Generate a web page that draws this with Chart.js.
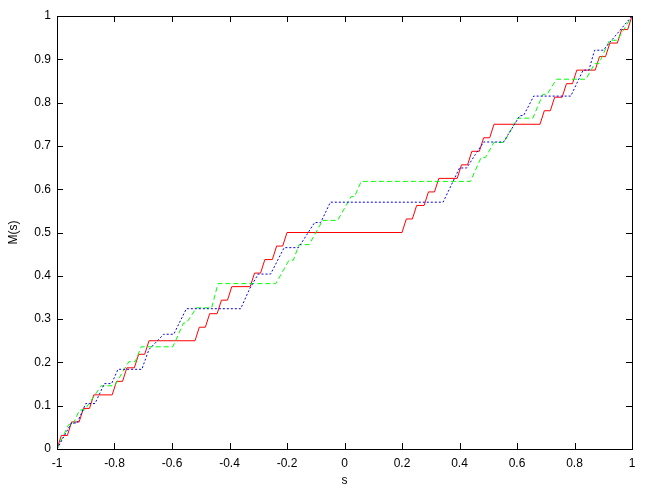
<!DOCTYPE html>
<html>
<head>
<meta charset="utf-8">
<script src="https://cdn.jsdelivr.net/npm/chart.js@4"></script>
<style>
  body { margin: 0; background: #fff; }
</style>
</head>
<body>
<canvas id="chart" width="654" height="491"></canvas>
<script>
// step curves M(s)
var redS = [-1, -0.985, -0.964, -0.949, -0.923, -0.908, -0.887, -0.872, -0.808, -0.793, -0.772, -0.757, -0.731, -0.716, -0.695,
  -0.68, -0.52, -0.505, -0.484, -0.469, -0.443, -0.428, -0.407, -0.392, -0.328, -0.313, -0.292, -0.277, -0.251, -0.236, -0.215,
  -0.2, 0.2, 0.215, 0.236, 0.251, 0.277, 0.292, 0.313, 0.328, 0.392, 0.407, 0.428, 0.443, 0.469, 0.484, 0.505,
  0.52, 0.68, 0.695, 0.716, 0.731, 0.757, 0.772, 0.793, 0.808, 0.872, 0.887, 0.908, 0.923, 0.949, 0.964, 0.985, 1];
var redM = [0, 0.03125, 0.03125, 0.0625, 0.0625, 0.09375, 0.09375, 0.125, 0.125, 0.15625, 0.15625, 0.1875, 0.1875, 0.21875, 0.21875,
  0.25, 0.25, 0.28125, 0.28125, 0.3125, 0.3125, 0.34375, 0.34375, 0.375, 0.375, 0.40625, 0.40625, 0.4375, 0.4375, 0.46875, 0.46875,
  0.5, 0.5, 0.53125, 0.53125, 0.5625, 0.5625, 0.59375, 0.59375, 0.625, 0.625, 0.65625, 0.65625, 0.6875, 0.6875, 0.71875, 0.71875,
  0.75, 0.75, 0.78125, 0.78125, 0.8125, 0.8125, 0.84375, 0.84375, 0.875, 0.875, 0.90625, 0.90625, 0.9375, 0.9375, 0.96875, 0.96875, 1];

var greenS = [-1, -0.96, -0.945, -0.922, -0.904, -0.846, -0.8, -0.75, -0.728, -0.707, -0.597, -0.56, -0.55, -0.515, -0.462, -0.44, -0.239,
  -0.193, -0.178, -0.158, -0.123, -0.076, -0.024, 0.023, 0.035, 0.058, 0.438, 0.475, 0.49, 0.52, 0.555, 0.602, 0.655,
  0.69, 0.705, 0.737, 0.84, 0.87, 0.885, 0.922, 0.949, 1];
var greenM = [0, 0.056, 0.056, 0.09, 0.09, 0.146, 0.146, 0.2016, 0.2016, 0.236, 0.236, 0.291, 0.291, 0.326, 0.326, 0.382, 0.382,
  0.436, 0.436, 0.472, 0.472, 0.528, 0.528, 0.583, 0.583, 0.618, 0.618, 0.673, 0.673, 0.708, 0.708, 0.764, 0.764,
  0.819, 0.819, 0.854, 0.854, 0.89, 0.89, 0.944, 0.944, 1];

var blueS = [-1, -0.95, -0.93, -0.9, -0.868, -0.835, -0.81, -0.788, -0.705, -0.68, -0.629, -0.594, -0.55, -0.361, -0.33, -0.3, -0.257,
  -0.21, -0.16, -0.104, -0.083, -0.049, 0.343, 0.4, 0.425, 0.455, 0.484, 0.553, 0.61, 0.623, 0.658, 0.787, 0.83, 0.85,
  0.87, 0.9, 1];
var blueM = [0, 0.06, 0.06, 0.105, 0.105, 0.151, 0.151, 0.184, 0.184, 0.23, 0.265, 0.265, 0.324, 0.324, 0.37, 0.404, 0.404,
  0.465, 0.465, 0.523, 0.523, 0.57, 0.57, 0.649, 0.649, 0.68, 0.709, 0.709, 0.77, 0.77, 0.815, 0.815, 0.875, 0.875,
  0.921, 0.921, 1];

var xTicks = [-1, -0.8, -0.6, -0.4, -0.2, 0, 0.2, 0.4, 0.6, 0.8, 1];
var yTicks = [0, 0.1, 0.2, 0.3, 0.4, 0.5, 0.6, 0.7, 0.8, 0.9, 1];

function pts(xs, ys) {
  return xs.map(function(x, i) { return { x: x, y: ys[i] }; });
}

// gnuplot style box with inward ticks on all four sides
var frameTicks = {
  id: 'frameTicks',
  afterDatasetsDraw: function(chart) {
    var c = chart.ctx, a = chart.chartArea;
    var xs = chart.scales.x, ys = chart.scales.y;
    var len = 6;
    c.save();
    c.strokeStyle = '#000';
    c.lineWidth = 1;
    c.beginPath();
    xTicks.forEach(function(v) {
      var p = Math.round(xs.getPixelForValue(v)) + 0.5;
      c.moveTo(p, a.bottom); c.lineTo(p, a.bottom - len);
      c.moveTo(p, a.top); c.lineTo(p, a.top + len);
    });
    yTicks.forEach(function(v) {
      var p = Math.round(ys.getPixelForValue(v)) + 0.5;
      c.moveTo(a.left, p); c.lineTo(a.left + len, p);
      c.moveTo(a.right, p); c.lineTo(a.right - len, p);
    });
    c.stroke();
    c.strokeRect(Math.round(a.left) + 0.5, Math.round(a.top) + 0.5,
      Math.round(a.right - a.left), Math.round(a.bottom - a.top));
    c.restore();
  }
};

var font = { family: 'Liberation Sans', size: 12 };

window.onload = function() {
  var ctx = document.getElementById('chart').getContext('2d');
  var myChart = new Chart(ctx, {
    type: 'scatter',
    data: {
      datasets: [
        {
          label: 'red',
          data: pts(redS, redM),
          showLine: true,
          borderColor: 'rgb(255,0,0)',
          borderWidth: 1,
          pointRadius: 0,
          order: 3
        },
        {
          label: 'green',
          data: pts(greenS, greenM),
          showLine: true,
          borderColor: 'rgb(0,255,0)',
          borderWidth: 1,
          borderDash: [5, 3],
          pointRadius: 0,
          order: 2
        },
        {
          label: 'blue',
          data: pts(blueS, blueM),
          showLine: true,
          borderColor: 'rgb(0,0,255)',
          borderWidth: 1,
          borderDash: [2, 2],
          pointRadius: 0,
          order: 1
        }
      ]
    },
    options: {
      responsive: false,
      animation: false,
      layout: { padding: { top: 16, right: 22 } },
      plugins: {
        legend: { display: false },
        tooltip: { enabled: false }
      },
      scales: {
        x: {
          type: 'linear',
          min: -1,
          max: 1,
          afterBuildTicks: function(s) { s.ticks = xTicks.map(function(v) { return { value: v }; }); },
          afterFit: function(s) { s.height = 42; },
          ticks: {
            color: '#000',
            font: font,
            padding: 7,
            maxRotation: 0,
            callback: function(v) { return String(Math.round(v * 10) / 10); }
          },
          grid: { display: false, drawTicks: false },
          border: { display: false },
          title: { display: true, text: 's', color: '#000', font: font, padding: { top: 0, bottom: 3 } }
        },
        y: {
          type: 'linear',
          min: 0,
          max: 1,
          afterBuildTicks: function(s) { s.ticks = yTicks.map(function(v) { return { value: v }; }); },
          afterFit: function(s) { s.width = 57; },
          ticks: {
            color: '#000',
            font: font,
            padding: 6,
            callback: function(v) { return String(Math.round(v * 10) / 10); }
          },
          grid: { display: false, drawTicks: false },
          border: { display: false },
          title: { display: true, text: 'M(s)', color: '#000', font: font, padding: { top: 6, bottom: 0 } }
        }
      }
    },
    plugins: [frameTicks]
  });
};
</script>
</body>
</html>
